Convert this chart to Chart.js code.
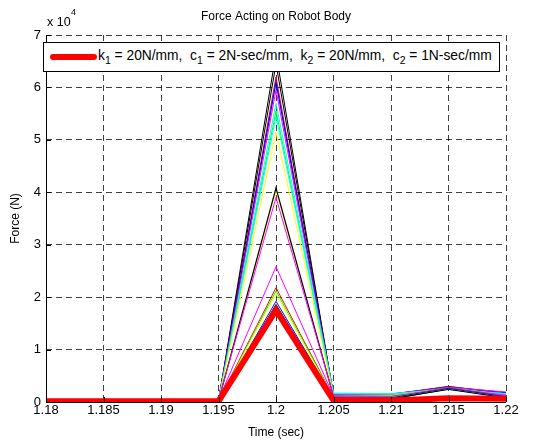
<!DOCTYPE html>
<html>
<head>
<meta charset="utf-8">
<script src="https://cdn.jsdelivr.net/npm/chart.js@4"></script>
<style>
  body { margin: 0; background: #fff; }
  #wrap { position: relative; width: 533px; height: 442px; }
  #legendBox {
    position: absolute; left: 43px; top: 42px; width: 455px; height: 28px;
    border: 1.5px solid #000; background: #fff;
    font: 13.8px "Liberation Sans", Arial, sans-serif; color: #000;
    display: flex; align-items: center; white-space: nowrap;
  }
  #legendBox .swatch { display: inline-block; width: 47px; height: 6px; background: #f00; border-radius: 3px; margin: 0 1px 0 6px; }
  #legendBox sub { font-size: 10.5px; vertical-align: -4px; }
</style>
</head>
<body>
<div id="wrap">
  <canvas id="chart" width="533" height="442"></canvas>
  <div id="legendBox"><span class="swatch"></span><span id="legendText"></span></div>
</div>
<script>
// --- data (Force in N) ---
const times = [1.18, 1.185, 1.19, 1.195, 1.2, 1.205, 1.21, 1.215, 1.22];
const xTicks = [1.18, 1.185, 1.19, 1.195, 1.2, 1.205, 1.21, 1.215, 1.22];
const yTicks = [0, 10000, 20000, 30000, 40000, 50000, 60000, 70000];

// legend series (thick red)
const redThick  = [150, 150, 150, 150, 17500, 300, 300, 700, 600];
// the other runs
const blackA    = [200, 200, 200, 200, 66500, 1200, 1100, 2500, 1000];
const blackB    = [200, 200, 200, 200, 64500, 1300, 1200, 2600, 1200];
const red1      = [200, 200, 200, 200, 62000, 1300, 1400, 3000, 1500];
const blue1     = [200, 200, 200, 200, 61000, 1400, 1500, 2900, 1800];
const magenta1  = [200, 200, 200, 200, 59500, 1500, 1500, 2800, 1900];
const cyan1     = [200, 200, 200, 200, 57000, 1700, 1600, 2400, 1600];
const green1    = [200, 200, 200, 200, 55500, 1300, 1300, 2700, 1400];
const cyan2     = [200, 200, 200, 200, 54500, 1600, 1500, 2500, 1500];
const yellow1   = [200, 200, 200, 200, 51500, 1200, 1200, 2600, 1200];
const yellow2   = [200, 200, 200, 200, 40300, 1100, 1000, 2500, 1100];
const black1    = [200, 200, 200, 200, 40800, 1000, 600, 2500, 900];
const magenta2  = [400, 400, 400, 400, 39000, 1200, 1100, 2600, 1300];
const magenta3  = [400, 400, 400, 400, 25800, 1100, 1000, 2600, 1200];
const red2      = [200, 200, 200, 200, 21800, 900, 900, 2700, 1000];
const green2    = [200, 200, 200, 200, 21200, 900, 900, 2600, 1000];
const yellow3   = [200, 200, 200, 200, 20600, 800, 800, 2500, 900];
const blue2     = [200, 200, 200, 200, 19200, 800, 800, 2600, 1000];
const black2    = [200, 200, 200, 200, 18600, 700, 600, 2400, 800];

const runs = [
  [redThick, "#ff0000", 6],
  [black2, "#000000", 1], [blue2, "#0000ff", 1], [yellow3, "#ffff00", 1],
  [green2, "#00ff00", 1], [red2, "#ff0000", 1], [magenta3, "#ff00ff", 1],
  [magenta2, "#ff00ff", 1], [black1, "#000000", 1.2], [yellow2, "#ffff00", 1],
  [yellow1, "#ffff00", 1], [cyan2, "#00ffff", 1], [green1, "#00ff00", 1],
  [cyan1, "#00ffff", 1], [magenta1, "#ff00ff", 1], [blue1, "#0000ff", 1.3],
  [red1, "#ff0000", 1], [blackB, "#000000", 1], [blackA, "#000000", 1],
];

const legendLabel = "k<sub>1</sub> = 20N/mm,&nbsp; c<sub>1</sub> = 2N-sec/mm,&nbsp; k<sub>2</sub> = 20N/mm,&nbsp; c<sub>2</sub> = 1N-sec/mm";
document.getElementById("legendText").innerHTML = legendLabel;

const FONT = '"Liberation Sans", Arial, sans-serif';

// title, exponent and inward ticks
const decor = {
  id: "decor",
  afterDraw(chart) {
    const ctx = chart.ctx;
    const a = chart.chartArea;
    ctx.save();
    ctx.fillStyle = "#000";
    ctx.textBaseline = "middle";
    ctx.textAlign = "center";
    ctx.font = "12px " + FONT;
    ctx.fillText("Force Acting on Robot Body", (a.left + a.right) / 2, 17);
    ctx.textAlign = "left";
    ctx.font = "12.5px " + FONT;
    ctx.fillText("x 10", a.left + 1, 23);
    ctx.font = "9px " + FONT;
    ctx.fillText("4", a.left + 25, 13);
    // solid left / bottom axis lines and inward ticks
    ctx.strokeStyle = "#000";
    ctx.lineWidth = 1;
    ctx.beginPath();
    ctx.moveTo(a.left + 0.5, a.top); ctx.lineTo(a.left + 0.5, a.bottom + 0.5);
    ctx.lineTo(a.right, a.bottom + 0.5);
    const xs = chart.scales.x, ys = chart.scales.y;
    xTicks.forEach(v => {
      const px = Math.round(xs.getPixelForValue(v)) + 0.5;
      ctx.moveTo(px, a.bottom); ctx.lineTo(px, a.bottom - 5);
    });
    yTicks.forEach(v => {
      const py = Math.round(ys.getPixelForValue(v)) + 0.5;
      ctx.moveTo(a.left, py); ctx.lineTo(a.left + 5, py);
    });
    ctx.stroke();
    ctx.restore();
  }
};

new Chart(document.getElementById("chart"), {
  type: "line",
  data: {
    datasets: runs.map(([vals, color, w]) => ({
      data: times.map((t, i) => ({ x: t, y: vals[i] })),
      borderColor: color,
      borderWidth: w,
      pointRadius: 0,
      tension: 0,
      borderJoinStyle: "miter",
      fill: false,
    })),
  },
  options: {
    responsive: false,
    animation: false,
    layout: { padding: { top: 35, right: 27, left: 0, bottom: 0 } },
    plugins: { legend: { display: false }, tooltip: { enabled: false } },
    scales: {
      x: {
        type: "linear",
        min: 1.18, max: 1.22,
        afterBuildTicks: (s) => { s.ticks = xTicks.map(v => ({ value: v })); },
        afterFit: (s) => { s.height = 40; },
        ticks: {
          color: "#000", font: { size: 13, family: FONT }, padding: 1,
          maxRotation: 0, autoSkip: false,
          callback: (v) => String(parseFloat(v.toFixed(3))),
        },
        grid: { color: "rgba(0,0,0,0.75)", drawTicks: false, tickLength: 0 },
        border: { display: false, dash: [6, 4] },
        title: { display: true, text: "Time (sec)", color: "#000", font: { size: 12, family: FONT }, padding: { top: 0, bottom: 2 } },
      },
      y: {
        min: 0, max: 70000,
        afterBuildTicks: (s) => { s.ticks = yTicks.map(v => ({ value: v })); },
        afterFit: (s) => { s.width = 46; },
        ticks: {
          color: "#000", font: { size: 13, family: FONT }, padding: 5,
          callback: (v) => String(v / 10000),
        },
        grid: { color: "rgba(0,0,0,0.75)", drawTicks: false, tickLength: 0 },
        border: { display: false, dash: [6, 4] },
        title: { display: true, text: "Force (N)", color: "#000", font: { size: 12, family: FONT }, padding: { top: 8, bottom: 0 } },
      },
    },
  },
  plugins: [decor],
});
</script>
</body>
</html>
